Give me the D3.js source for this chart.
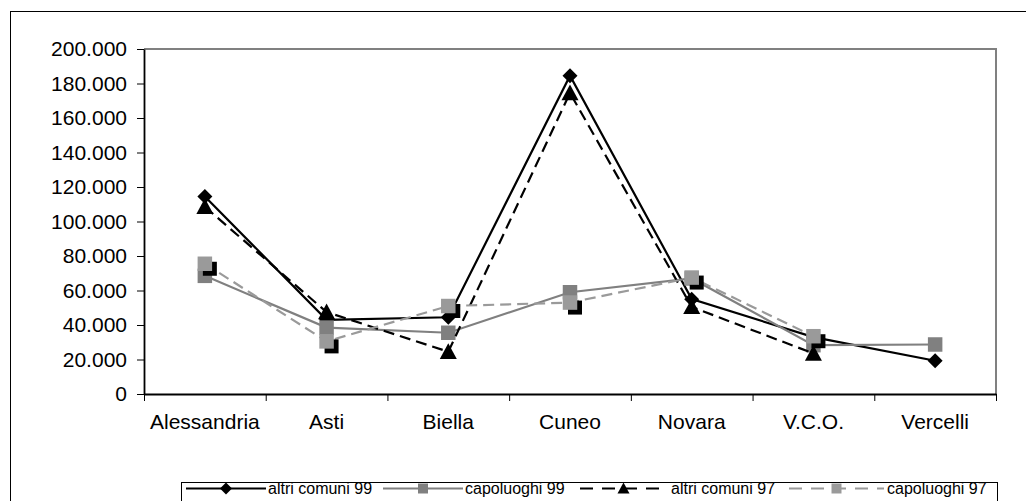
<!DOCTYPE html>
<html>
<head>
<meta charset="utf-8">
<script src="https://cdn.jsdelivr.net/npm/d3@7"></script>
<style>
  html, body { margin: 0; padding: 0; background: #fff; }
  svg { display: block; font-family: "Liberation Sans", Arial, sans-serif; }
</style>
</head>
<body>
<svg id="chart" width="1026" height="501"></svg>
<script>
// Province categories
const categories = ["Alessandria", "Asti", "Biella", "Cuneo", "Novara", "V.C.O.", "Vercelli"];

// Series values (null = no value for that province)
const altriComuni99 = [114500, 43000, 44500, 184500, 55000, 33000, 19300];
const capoluoghi99  = [68500, 38500, 35500, 59000, 67000, 28300, 28700];
const altriComuni97 = [108500, 47500, 24500, 174500, 50500, 23500, null];
const capoluoghi97  = [75500, 30500, 51000, 53000, 67500, 33500, null];

// Y axis tick values and their labels
const yTicks = [0, 20000, 40000, 60000, 80000, 100000, 120000, 140000, 160000, 180000, 200000];
const yTickLabels = ["0", "20.000", "40.000", "60.000", "80.000", "100.000", "120.000", "140.000", "160.000", "180.000", "200.000"];

const seriesNames = ["altri comuni 99", "capoluoghi 99", "altri comuni 97", "capoluoghi 97"];

const series = [
  { name: seriesNames[0], values: altriComuni99, color: "#000000", dash: null,   marker: "diamond" },
  { name: seriesNames[1], values: capoluoghi99,  color: "#808080", dash: null,   marker: "square" },
  { name: seriesNames[2], values: altriComuni97, color: "#000000", dash: "11,6", marker: "triangle" },
  { name: seriesNames[3], values: capoluoghi97,  color: "#9a9a9a", dash: "11,6", marker: "square", shadow: true }
];

const svg = d3.select("#chart");

// Outer chart frame (runs past the right and bottom edges)
svg.append("rect")
  .attr("x", 10.5).attr("y", 11.5)
  .attr("width", 1100).attr("height", 600)
  .attr("fill", "none").attr("stroke", "#000").attr("stroke-width", 1);

const plot = { left: 144, top: 49, right: 996, bottom: 394 };

const x = d3.scaleBand().domain(categories).range([plot.left, plot.right]).paddingInner(0).paddingOuter(0);
const y = d3.scaleLinear().domain([0, 200000]).range([plot.bottom, plot.top]);
const cx = c => x(c) + x.bandwidth() / 2;

// Plot area border (top and right in gray)
svg.append("path")
  .attr("d", `M${plot.left},${plot.top}H${plot.right}V${plot.bottom}`)
  .attr("fill", "none").attr("stroke", "#808080").attr("stroke-width", 2);

// Y axis
const yAxis = d3.axisLeft(y)
  .tickValues(yTicks)
  .tickFormat((d, i) => yTickLabels[i])
  .tickSize(7).tickPadding(10).tickSizeOuter(0);
const gy = svg.append("g").attr("transform", `translate(${plot.left},0)`).call(yAxis);
gy.select(".domain").attr("stroke", "#000").attr("stroke-width", 1.8);
gy.selectAll(".tick line").attr("stroke", "#000");
gy.selectAll(".tick text").attr("font-size", 21).attr("fill", "#000")
  .attr("font-family", "'Liberation Sans', Arial, sans-serif");

// X axis: ticks on category boundaries, labels centred in each band
const edge = d3.scaleLinear().domain([0, categories.length]).range([plot.left, plot.right]);
const xTickAxis = d3.axisBottom(edge).tickValues(d3.range(categories.length + 1))
  .tickFormat("").tickSize(7).tickSizeOuter(0);
const gx = svg.append("g").attr("transform", `translate(0,${plot.bottom})`).call(xTickAxis);
gx.select(".domain").attr("stroke", "#000").attr("stroke-width", 1.8);
gx.selectAll(".tick line").attr("stroke", "#000");

const xLabelAxis = d3.axisBottom(x).tickSize(0).tickPadding(20);
const gxl = svg.append("g").attr("transform", `translate(0,${plot.bottom})`).call(xLabelAxis);
gxl.select(".domain").remove();
gxl.selectAll(".tick text").attr("font-size", 21).attr("fill", "#000")
  .attr("font-family", "'Liberation Sans', Arial, sans-serif");

// Marker shapes
function markerPath(type, size) {
  const h = size / 2;
  if (type === "diamond") return `M0,${-h}L${h},0L0,${h}L${-h},0Z`;
  if (type === "triangle") return `M0,${-h}L${h},${h * 0.85}L${-h},${h * 0.85}Z`;
  return `M${-h},${-h}H${h}V${h}H${-h}Z`;
}
const markerSize = { diamond: 15, square: 14.5, triangle: 17 };

const line = d3.line()
  .defined(d => d.v !== null)
  .x(d => cx(d.c))
  .y(d => y(d.v));

series.forEach(s => {
  const pts = categories.map((c, i) => ({ c, v: s.values[i] }));
  const g = svg.append("g");
  g.append("path")
    .datum(pts)
    .attr("d", line)
    .attr("fill", "none")
    .attr("stroke", s.color)
    .attr("stroke-width", 2.2)
    .attr("stroke-dasharray", s.dash);
  const valid = pts.filter(d => d.v !== null);
  if (s.shadow) {
    g.selectAll("path.shadow").data(valid).join("path")
      .attr("class", "shadow")
      .attr("transform", d => `translate(${cx(d.c) + 5},${y(d.v) + 5})`)
      .attr("d", markerPath(s.marker, 14))
      .attr("fill", "#000");
  }
  g.selectAll("path.mk").data(valid).join("path")
    .attr("class", "mk")
    .attr("transform", d => `translate(${cx(d.c)},${y(d.v)})`)
    .attr("d", markerPath(s.marker, markerSize[s.marker]))
    .attr("fill", s.color);
});

// Legend
const legend = svg.append("g");
legend.append("rect")
  .attr("x", 181.5).attr("y", 482.5).attr("width", 816).attr("height", 40)
  .attr("fill", "#fff").attr("stroke", "#000").attr("stroke-width", 1);

const legendPos = [
  { x0: 186, x1: 266, tx: 268 },
  { x0: 383, x1: 463, tx: 465 },
  { x0: 580, x1: 667, tx: 671 },
  { x0: 789, x1: 884, tx: 887 }
];
const ly = 488.5;
series.forEach((s, i) => {
  const p = legendPos[i];
  legend.append("line")
    .attr("x1", p.x0).attr("x2", p.x1).attr("y1", ly).attr("y2", ly)
    .attr("stroke", s.color).attr("stroke-width", 2.2)
    .attr("stroke-dasharray", s.dash ? "13,9" : null);
  legend.append("path")
    .attr("transform", `translate(${(p.x0 + p.x1) / 2},${ly})`)
    .attr("d", markerPath(s.marker, s.marker === "square" ? 10 : 12))
    .attr("fill", s.color);
  legend.append("text")
    .attr("x", p.tx).attr("y", 494)
    .attr("font-size", 16).attr("fill", "#000")
    .text(s.name);
});
</script>
</body>
</html>
